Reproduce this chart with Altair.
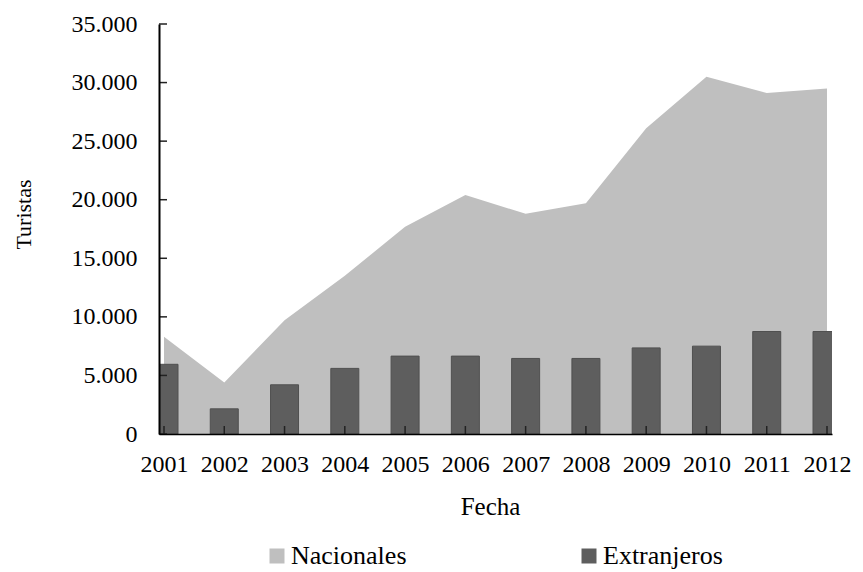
import altair as alt
import pandas as pd

years = list(range(2001, 2013))
nacionales = [8300, 4400, 9700, 13500, 17700, 20400, 18800, 19700, 26100, 30500, 29100, 29500]
extranjeros = [5950, 2150, 4200, 5600, 6650, 6650, 6450, 6450, 7350, 7500, 8750, 8750]
y_ticks = [0, 5000, 10000, 15000, 20000, 25000, 30000, 35000]
series = ["Nacionales", "Extranjeros"]
colors = ["#bfbfbf", "#5e5e5e"]

FONT = "Liberation Serif"
W, H = 673, 410

df = pd.DataFrame({"year": years, "Nacionales": nacionales, "Extranjeros": extranjeros})

xscale = alt.Scale(domain=[2001, 2012], nice=False, zero=False)
yscale = alt.Scale(domain=[0, 35000], nice=False)

color = alt.Color(
    "serie:N",
    scale=alt.Scale(domain=series, range=colors),
    legend=alt.Legend(
        title=None, orient="none", legendX=105, legendY=519,
        direction="horizontal", columns=2, columnPadding=169,
        symbolType="square", symbolSize=225, symbolStrokeWidth=0,
        labelFont=FONT, labelFontSize=26, labelColor="black", labelOffset=1,
    ),
)

xaxis = alt.Axis(
    values=years, format="d", title="Fecha", ticks=False, tickSize=0,
    labelPadding=18, labelFont=FONT, labelFontSize=24, labelColor="black",
    domainColor="black", domainWidth=1.5, grid=False, zindex=1,
    titleFont=FONT, titleFontSize=25, titleFontWeight="normal", titleColor="black",
    titleX=331, titleY=72, titleBaseline="middle", titleAlign="center",
)
yaxis = alt.Axis(
    values=y_ticks, title="Turistas", ticks=False, tickSize=0,
    labelExpr="replace(format(datum.value, ','), ',', '.')",
    labelPadding=22, labelFont=FONT, labelFontSize=24, labelColor="black",
    domainColor="black", domainWidth=2, grid=False, zindex=1,
    titleFont=FONT, titleFontSize=22, titleFontWeight="normal", titleColor="black",
    titleX=-136, titleY=190, titleAngle=270, titleBaseline="middle", titleAlign="center",
)

base = alt.Chart(df)

area = base.mark_area(clip=True).transform_calculate(serie="'Nacionales'").encode(
    x=alt.X("year:Q", scale=xscale, axis=xaxis),
    y=alt.Y("Nacionales:Q", scale=yscale, axis=yaxis),
    color=color,
)

bars = base.mark_bar(size=28, clip=True, stroke="#505050", strokeWidth=1).transform_calculate(
    serie="'Extranjeros'"
).encode(
    x=alt.X("year:Q", scale=xscale, axis=xaxis),
    y=alt.Y("Extranjeros:Q", scale=yscale, axis=yaxis),
    color=color,
)

ytick_rules = alt.Chart(pd.DataFrame({"v": y_ticks})).mark_rule(color="#222222", strokeWidth=1.5).encode(
    y=alt.Y("v:Q", scale=yscale, axis=yaxis),
    x=alt.value(0),
    x2=alt.value(8),
)

xtick_rules = alt.Chart(pd.DataFrame({"year": years})).mark_rule(color="#222222", strokeWidth=1.5).encode(
    x=alt.X("year:Q", scale=xscale, axis=xaxis),
    y=alt.value(H - 8),
    y2=alt.value(H),
)

chart = alt.layer(area, bars, ytick_rules, xtick_rules).properties(
    width=W, height=H,
    background="white",
    autosize=alt.AutoSizeParams(type="none"),
    padding={"left": 151, "top": 16, "right": 20, "bottom": 138},
).configure_view(stroke=None)

chart.save("out.html", embed_options={"renderer": "svg", "actions": False})
